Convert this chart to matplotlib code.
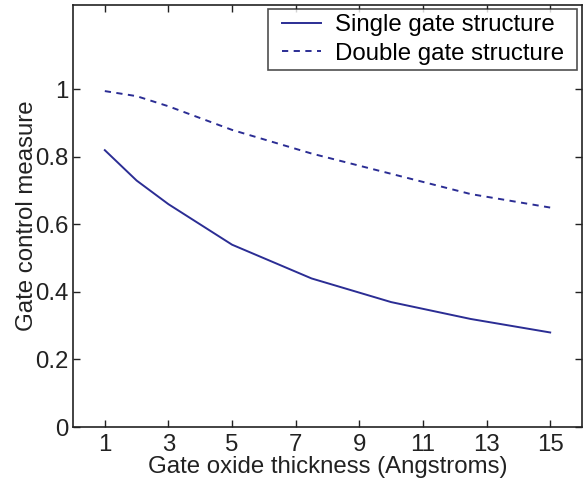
import matplotlib
matplotlib.use("Agg")
import matplotlib.pyplot as plt
from matplotlib.path import Path

thickness = [1, 2, 3, 5, 7.5, 10, 12.5, 15]
single_gate = [0.82, 0.73, 0.66, 0.54, 0.44, 0.37, 0.32, 0.28]
double_gate = [0.995, 0.98, 0.95, 0.88, 0.81, 0.75, 0.69, 0.65]
x_ticks = [1, 3, 5, 7, 9, 11, 13, 15]
y_ticks = [0, 0.2, 0.4, 0.6, 0.8, 1]
y_tick_labels = ["0", "0.2", "0.4", "0.6", "0.8", "1"]

plt.rcParams['font.family'] = ['Liberation Sans', 'DejaVu Sans']
fig = plt.figure(figsize=(5.87, 4.8), dpi=100)
ax = fig.add_axes([73/587, 1 - 427/480, (582 - 73)/587, (427 - 5)/480])

color = '#2b2d94'
fs = 17.3
ax.plot(thickness, single_gate, '-', color=color, lw=1.4, label='Single gate structure')
ax.plot(thickness, double_gate, '--', color=color, lw=1.4, dashes=(3.2, 2.8), label='Double gate structure')

ax.set_xlim(0, 16)
ax.set_ylim(0, 1.25)
ax.set_xticks(x_ticks)
ax.set_xticklabels([str(t) for t in x_ticks])
ax.set_yticks(y_ticks)
ax.set_yticklabels(y_tick_labels)
ax.tick_params(direction='in', top=True, right=True, labelsize=fs, length=5, width=1, colors='#222222')
ax.tick_params(axis='x', pad=5)
ax.tick_params(axis='y', pad=3)
for s in ax.spines.values():
    s.set_linewidth(1.2)
    s.set_color('#222222')

ax.set_xlabel('Gate oxide thickness (Angstroms)', fontsize=fs, labelpad=0, color='#222222')
ax.set_ylabel('Gate control measure', fontsize=fs, labelpad=-2, color='#222222')

HPAD = 8  # extra horizontal frame padding in pixels


def hpad_box(x0, y0, width, height, mutation_size, *args, **kwargs):
    xa, xb = x0 - HPAD, x0 + width + HPAD
    ya, yb = y0, y0 + height
    return Path([(xa, ya), (xb, ya), (xb, yb), (xa, yb), (xa, ya)], closed=True)


leg = ax.legend(loc='upper right', fontsize=fs, frameon=True, fancybox=False,
                edgecolor='#222222', borderpad=0.22, handlelength=1.65, handletextpad=0.55,
                labelspacing=0.27, borderaxespad=0,
                bbox_to_anchor=((569 - 73) / 509, (427 - 9) / 422))
frame = leg.get_frame()
frame.set_linewidth(1.2)
try:
    frame.set_boxstyle(hpad_box)
except Exception:
    pass

fig.savefig('out.png', dpi=100)
